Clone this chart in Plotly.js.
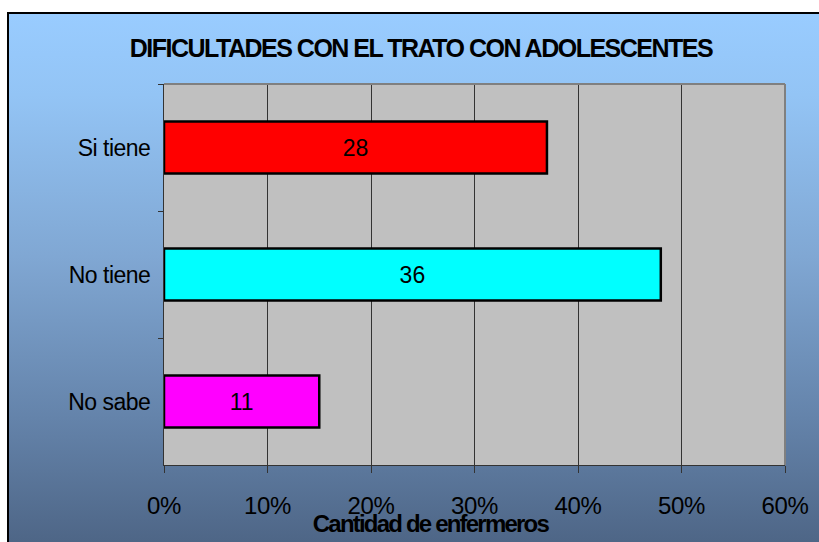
<!DOCTYPE html>
<html>
<head>
<meta charset="utf-8">
<script src="https://cdn.plot.ly/plotly-3.0.1.min.js"></script>
<style>
  html, body { margin: 0; padding: 0; background: #ffffff; }
  #frame {
    position: absolute; left: 7px; top: 12px; width: 820px; height: 540px;
    border-left: 2px solid #000; border-top: 2px solid #000;
    background: linear-gradient(to bottom, #99CCFF 0%, #93C4F5 15%, #80A7D3 45%, #6483AA 75%, #4C6383 100%);
  }
  #chart { position: absolute; left: 0; top: 0; width: 819px; height: 542px; }
  #chart .gtitle { letter-spacing: -1.5px; }
  #chart .xtick text { letter-spacing: -0.3px; }
  #chart .ytick text { letter-spacing: -0.5px; }
  #chart .annotation-text { letter-spacing: -1.8px; }
</style>
</head>
<body>
<div id="frame"></div>
<div id="chart"></div>
<script>
const categories = ["Si tiene", "No tiene", "No sabe"];
const counts = [28, 36, 11];
const percents = [37.0, 48.0, 15.0];
const barColors = ["#FF0000", "#00FFFF", "#FF00FF"];
const xTickVals = [0, 10, 20, 30, 40, 50, 60];
const xTickText = ["0%", "10%", "20%", "30%", "40%", "50%", "60%"];
const titleText = "DIFICULTADES CON EL TRATO CON ADOLESCENTES";
const xTitleText = "Cantidad de enfermeros";

const font = "Liberation Sans, Arial, sans-serif";

const trace = {
  type: "bar",
  orientation: "h",
  y: categories,
  x: percents,
  text: counts.map(String),
  textposition: "inside",
  insidetextanchor: "middle",
  textfont: { family: font, size: 23, color: "#000" },
  marker: { color: barColors, line: { color: "#000", width: 2.5 } },
  hoverinfo: "skip"
};

const layout = {
  width: 819, height: 542,
  margin: { l: 164, r: 34, t: 84, b: 77 },
  paper_bgcolor: "rgba(0,0,0,0)",
  plot_bgcolor: "#C0C0C0",
  showlegend: false,
  bargap: 0.59,
  title: {
    text: "<b>" + titleText + "</b>",
    font: { family: font, size: 25, color: "#000" },
    xref: "container", x: 0.514, xanchor: "center",
    yref: "container", y: 0.9114, yanchor: "middle"
  },
  xaxis: {
    range: [0, 60],
    tickvals: xTickVals, ticktext: xTickText,
    showgrid: true, gridcolor: "#333333", gridwidth: 1,
    zeroline: false,
    showline: true, linecolor: "#333333", linewidth: 1,
    ticks: "outside", ticklen: 7, tickcolor: "#333333",
    ticklabelstandoff: 12,
    tickfont: { family: font, size: 24, color: "#000" },
    fixedrange: true
  },
  yaxis: {
    type: "category",
    categoryorder: "array", categoryarray: categories,
    autorange: "reversed",
    showgrid: false, zeroline: false,
    showline: true, linecolor: "#333333", linewidth: 1,
    ticks: "outside", ticklen: 5, tickcolor: "#333333",
    tickson: "boundaries",
    ticklabelstandoff: 8,
    tickfont: { family: font, size: 23, color: "#000" },
    fixedrange: true
  },
  shapes: [
    { type: "line", xref: "paper", yref: "paper", x0: 0, x1: 1, y0: 1, y1: 1, line: { color: "#808080", width: 2 } },
    { type: "line", xref: "paper", yref: "paper", x0: 1, x1: 1, y0: 0, y1: 1, line: { color: "#808080", width: 2 } }
  ],
  annotations: [
    {
      text: "<b>" + xTitleText + "</b>",
      xref: "paper", yref: "paper",
      x: (430 - 164) / 621, y: -(523 - 465) / 381,
      xanchor: "center", yanchor: "middle",
      showarrow: false,
      font: { family: font, size: 24, color: "#000" }
    }
  ]
};

Plotly.newPlot("chart", [trace], layout, { displayModeBar: false, staticPlot: true });
</script>
</body>
</html>
